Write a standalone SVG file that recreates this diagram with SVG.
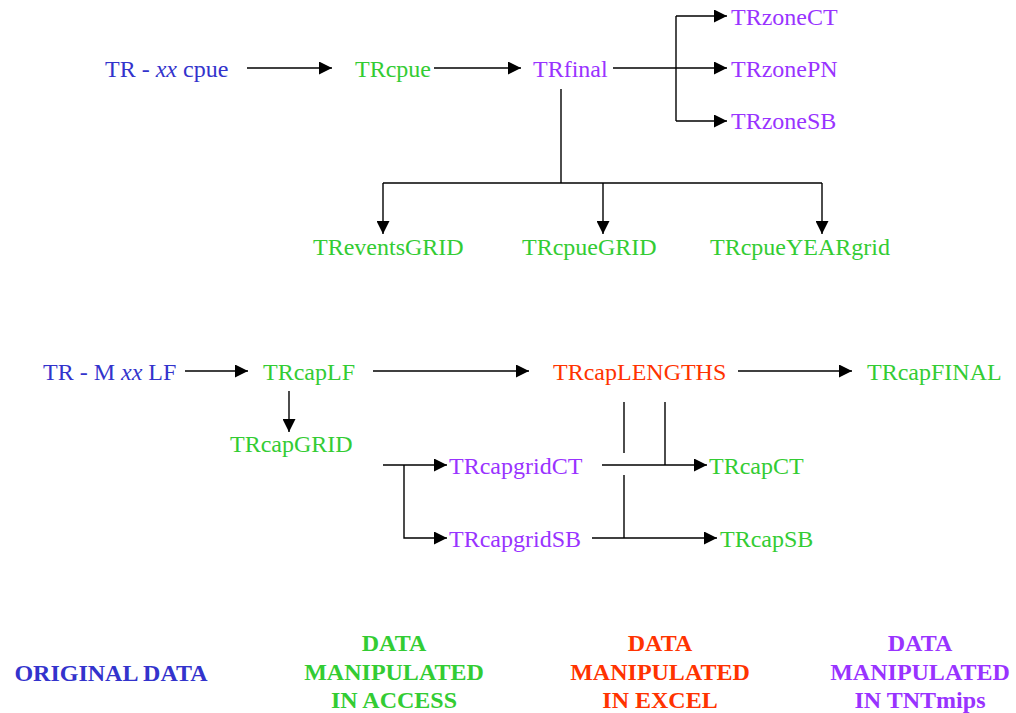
<svg xmlns="http://www.w3.org/2000/svg" width="1016" height="713" viewBox="0 0 1016 713">
<style>
text{font-family:"Liberation Serif","Times New Roman",serif;font-size:24px}
.b{fill:#3333CC}.g{fill:#33CC33}.p{fill:#9933FF}.r{fill:#FF3300}
.lg{font-weight:bold;text-anchor:middle}
.c line,.c polyline{stroke:#000;stroke-width:1.4;fill:none}
.a{marker-end:url(#ah)}
</style>
<defs>
<marker id="ah" markerUnits="userSpaceOnUse" markerWidth="13" markerHeight="13" refX="13" refY="6.5" orient="auto">
<path d="M0,0 L13,6.5 L0,13 z" fill="#000"/>
</marker>
</defs>
<rect width="1016" height="713" fill="#fff"/>
<g class="c" id="connectors">
<line class="a" x1="247" y1="68" x2="332" y2="68"/>
<line class="a" x1="434" y1="68" x2="521" y2="68"/>
<line x1="613" y1="68" x2="676" y2="68"/>
<line x1="676" y1="16" x2="676" y2="121"/>
<line class="a" x1="676" y1="16" x2="727" y2="16"/>
<line class="a" x1="676" y1="68" x2="727" y2="68"/>
<line class="a" x1="676" y1="121" x2="727" y2="121"/>
<line x1="561" y1="89" x2="561" y2="183"/>
<line x1="383" y1="183" x2="822" y2="183"/>
<line class="a" x1="383" y1="183" x2="383" y2="234"/>
<line class="a" x1="603" y1="183" x2="603" y2="234"/>
<line class="a" x1="822" y1="183" x2="822" y2="234"/>
<line class="a" x1="185" y1="371" x2="248" y2="371"/>
<line class="a" x1="373" y1="371" x2="529" y2="371"/>
<line class="a" x1="738" y1="371" x2="852" y2="371"/>
<line class="a" x1="289" y1="391" x2="289" y2="432"/>
<line class="a" x1="383" y1="465" x2="447" y2="465"/>
<polyline class="a" points="404,465 404,538 447,538"/>
<line x1="624" y1="402" x2="624" y2="453"/>
<line x1="624" y1="475" x2="624" y2="538"/>
<line x1="665" y1="402" x2="665" y2="465"/>
<line class="a" x1="602" y1="465" x2="707" y2="465"/>
<line class="a" x1="592" y1="538" x2="717" y2="538"/>
</g>
<g id="n-trxxcpue"><text class="b" x="105" y="77">TR - <tspan font-style="italic">xx</tspan> cpue</text></g>
<g id="n-trcpue"><text class="g" x="355" y="77">TRcpue</text></g>
<g id="n-trfinal"><text class="p" x="533" y="77">TRfinal</text></g>
<g id="n-trzonect"><text class="p" x="731" y="25">TRzoneCT</text></g>
<g id="n-trzonepn"><text class="p" x="731" y="77">TRzonePN</text></g>
<g id="n-trzonesb"><text class="p" x="731" y="129">TRzoneSB</text></g>
<g id="n-treventsgrid"><text class="g" x="313" y="255">TReventsGRID</text></g>
<g id="n-trcpuegrid"><text class="g" x="522" y="255">TRcpueGRID</text></g>
<g id="n-trcpueyeargrid"><text class="g" x="710" y="255">TRcpueYEARgrid</text></g>
<g id="n-trmxxlf"><text class="b" x="43" y="380">TR - M <tspan font-style="italic">xx</tspan> LF</text></g>
<g id="n-trcaplf"><text class="g" x="263" y="380">TRcapLF</text></g>
<g id="n-trcaplengths"><text class="r" x="553" y="380">TRcapLENGTHS</text></g>
<g id="n-trcapfinal"><text class="g" x="867" y="380">TRcapFINAL</text></g>
<g id="n-trcapgrid"><text class="g" x="230" y="452">TRcapGRID</text></g>
<g id="n-trcapgridct"><text class="p" x="449" y="474">TRcapgridCT</text></g>
<g id="n-trcapgridsb"><text class="p" x="449" y="547">TRcapgridSB</text></g>
<g id="n-trcapct"><text class="g" x="709" y="474">TRcapCT</text></g>
<g id="n-trcapsb"><text class="g" x="720" y="547">TRcapSB</text></g>
<g id="legend">
<text class="lg b" x="111" y="681">ORIGINAL DATA</text>
<text class="lg g" x="394" y="651">DATA</text>
<text class="lg g" x="394" y="680">MANIPULATED</text>
<text class="lg g" x="394" y="708">IN ACCESS</text>
<text class="lg r" x="660" y="651">DATA</text>
<text class="lg r" x="660" y="680">MANIPULATED</text>
<text class="lg r" x="660" y="708">IN EXCEL</text>
<text class="lg p" x="920" y="651">DATA</text>
<text class="lg p" x="920" y="680">MANIPULATED</text>
<text class="lg p" x="920" y="708">IN TNTmips</text>
</g>
</svg>
